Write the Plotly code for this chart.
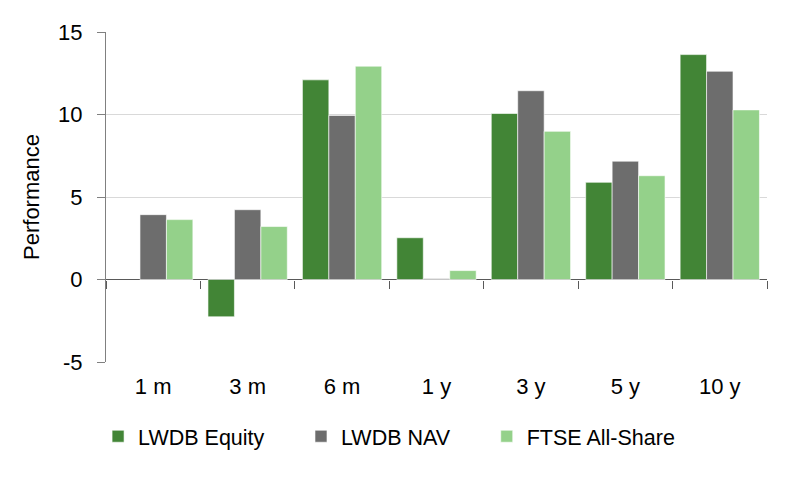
import plotly.graph_objects as go

categories = ["1 m", "3 m", "6 m", "1 y", "3 y", "5 y", "10 y"]
lwdb_equity = [None, -2.26, 12.1, 2.53, 10.06, 5.89, 13.63]
lwdb_nav = [3.93, 4.23, 9.94, 0.05, 11.44, 7.17, 12.62]
ftse_all_share = [3.63, 3.21, 12.93, 0.54, 8.98, 6.29, 10.28]
y_ticks = [-5, 0, 5, 10, 15]
y_tick_labels = ["-5", "0", "5", "10", "15"]

font = "Liberation Sans, Arial, sans-serif"

fig = go.Figure()
series = [
    ("LWDB Equity", lwdb_equity, "#428536", "legend", -0.012),
    ("LWDB NAV", lwdb_nav, "#6d6d6d", "legend2", 0.295),
    ("FTSE All-Share", ftse_all_share, "#94d18a", "legend3", 0.576),
]
for name, vals, col, leg, _ in series:
    fig.add_trace(go.Bar(
        x=categories, y=vals, name=name, legend=leg,
        marker=dict(color=col, line=dict(color="rgba(255,255,255,0.6)", width=1)),
    ))

# invisible helper trace for the boundary ticks on the zero line
fig.add_trace(go.Scatter(x=categories, y=[None] * len(categories), xaxis="x2",
                         showlegend=False, hoverinfo="skip", mode="markers"))

legend_common = dict(orientation="h", xanchor="left", y=-0.225, yanchor="middle",
                     font=dict(size=21.5, family=font), bgcolor="rgba(0,0,0,0)")
legends = {}
for name, vals, col, leg, lx in series:
    legends[leg] = dict(x=lx, **legend_common)

# page body has an 8px margin, so margins are compensated
fig.update_layout(
    width=800, height=483,
    margin=dict(l=98, r=41, t=21, b=129),
    paper_bgcolor="white", plot_bgcolor="white",
    barmode="group", bargap=0.16, bargroupgap=0,
    font=dict(family=font, size=22, color="#000000"),
    showlegend=True,
    xaxis=dict(type="category", categoryorder="array", categoryarray=categories,
               showline=False, ticks="", showgrid=False, zeroline=False,
               tickfont=dict(size=22), ticklabelstandoff=9),
    xaxis2=dict(type="category", categoryorder="array", categoryarray=categories,
                overlaying="x", matches="x", anchor="free", position=0.25,
                showticklabels=False, showline=False, showgrid=False,
                ticks="outside", tickson="boundaries", ticklen=8,
                tickcolor="#595959", tickwidth=1),
    yaxis=dict(range=[-5, 15], tickvals=y_ticks, ticktext=y_tick_labels,
               showline=True, linecolor="#808080",
               linewidth=1, ticks="outside", ticklen=8, tickcolor="#808080",
               showgrid=True, gridcolor="#d9d9d9", gridwidth=1,
               zeroline=True, zerolinecolor="#595959", zerolinewidth=1,
               tickfont=dict(size=22), ticklabelstandoff=10,
               title=dict(text="Performance", font=dict(size=22), standoff=12)),
    **legends,
)

fig.write_html("out.html")
